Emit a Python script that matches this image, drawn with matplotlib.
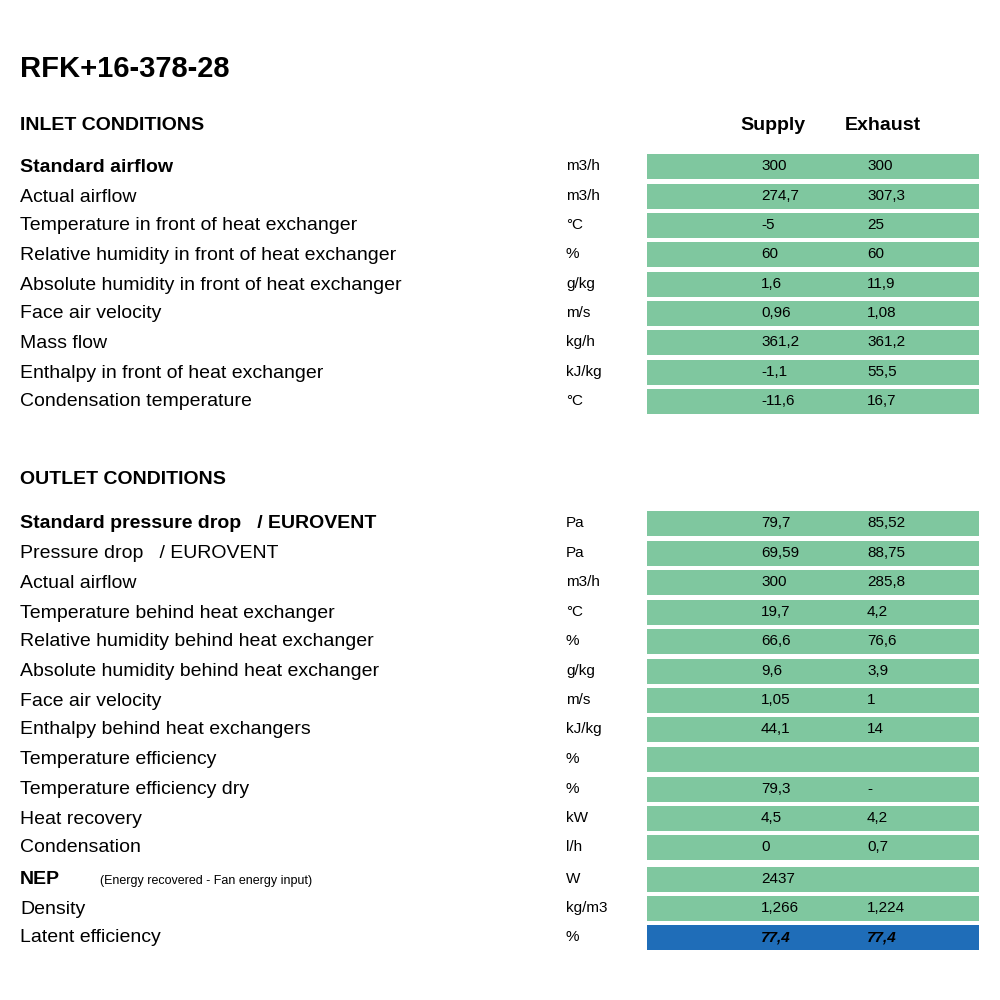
import matplotlib.pyplot as plt

plt.rcParams['font.family'] = ['Liberation Sans', 'DejaVu Sans']

title = "RFK+16-378-28"

inlet_labels = ["Standard airflow", "Actual airflow", "Temperature in front of heat exchanger",
                "Relative humidity in front of heat exchanger", "Absolute humidity in front of heat exchanger",
                "Face air velocity", "Mass flow", "Enthalpy in front of heat exchanger",
                "Condensation temperature"]
inlet_units = ["m3/h", "m3/h", "°C", "%", "g/kg", "m/s", "kg/h", "kJ/kg", "°C"]
inlet_supply = ["300", "274,7", "-5", "60", "1,6", "0,96", "361,2", "-1,1", "-11,6"]
inlet_exhaust = ["300", "307,3", "25", "60", "11,9", "1,08", "361,2", "55,5", "16,7"]

outlet_labels = ["Standard pressure drop   / EUROVENT", "Pressure drop   / EUROVENT", "Actual airflow",
                 "Temperature behind heat exchanger", "Relative humidity behind heat exchanger",
                 "Absolute humidity behind heat exchanger", "Face air velocity",
                 "Enthalpy behind heat exchangers", "Temperature efficiency",
                 "Temperature efficiency dry", "Heat recovery", "Condensation", "NEP",
                 "Density", "Latent efficiency"]
outlet_units = ["Pa", "Pa", "m3/h", "°C", "%", "g/kg", "m/s", "kJ/kg", "%", "%", "kW", "l/h", "W",
                "kg/m3", "%"]
outlet_supply = ["79,7", "69,59", "300", "19,7", "66,6", "9,6", "1,05", "44,1", "", "79,3", "4,5",
                 "0", "2437", "1,266", "77,4"]
outlet_exhaust = ["85,52", "88,75", "285,8", "4,2", "76,6", "3,9", "1", "14", "", "-", "4,2",
                  "0,7", "", "1,224", "77,4"]

inlet_y = [166, 196, 225, 254, 284, 313, 342, 372, 401]
outlet_y = [523, 553, 582, 612, 641, 671, 700, 729, 759, 789, 818, 847, 879, 908, 937]

GREEN = "#7fc79f"
BLUE = "#1f6db8"

fig = plt.figure(figsize=(10, 10), dpi=100)
ax = fig.add_axes([0, 0, 1, 1])
ax.set_xlim(0, 1000)
ax.set_ylim(1000, 0)
ax.axis('off')

ax.text(20, 69, title, fontsize=21, fontweight='bold', va='center')
ax.text(20, 126, "INLET CONDITIONS", fontsize=14, fontweight='bold', va='center')
ax.text(773, 126, "Supply", fontsize=14, fontweight='bold', va='center', ha='center')
ax.text(883, 126, "Exhaust", fontsize=14, fontweight='bold', va='center', ha='center')
ax.text(20, 480, "OUTLET CONDITIONS", fontsize=14, fontweight='bold', va='center')

def draw_rows(labels, units, sup, exh, ys, bold_first):
    colors = [GREEN] * len(ys)
    if labels[-1] == "Latent efficiency":
        colors[-1] = BLUE
    ax.barh(ys, [332] * len(ys), left=647, height=25, color=colors)
    for i, (lab, u, s, e, y) in enumerate(zip(labels, units, sup, exh, ys)):
        bold = (i == 0 and bold_first) or lab == "NEP"
        ax.text(20, y + 1, lab, fontsize=14, fontweight='bold' if bold else 'normal', va='center')
        if lab == "NEP":
            ax.text(100, y + 2, "(Energy recovered - Fan energy input)", fontsize=9, va='center')
        ax.text(566, y, u, fontsize=11, va='center')
        style = dict(fontsize=11, va='center')
        if colors[i] == BLUE:
            style.update(fontweight='bold', fontstyle='italic')
        ax.text(761, y, s, **style)
        ax.text(867, y, e, **style)

draw_rows(inlet_labels, inlet_units, inlet_supply, inlet_exhaust, inlet_y, True)
draw_rows(outlet_labels, outlet_units, outlet_supply, outlet_exhaust, outlet_y, True)

fig.savefig("out.png", dpi=100)
